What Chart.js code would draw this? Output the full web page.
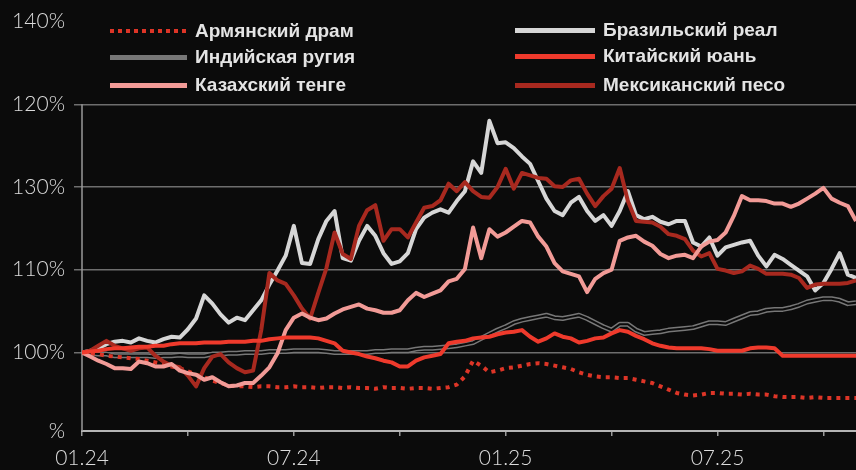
<!DOCTYPE html>
<html lang="ru">
<head>
<meta charset="utf-8">
<script src="https://cdn.jsdelivr.net/npm/chart.js@4.4.1/dist/chart.umd.min.js"></script>
<style>
  html, body { margin: 0; padding: 0; background: #0b0b0b; }
  #wrap { position: relative; width: 856px; height: 470px; overflow: hidden; background: #0b0b0b; }
  #chart { position: absolute; left: 0; top: 0; }
  .legend-item { position: absolute; display: flex; align-items: center; height: 24px;
    font: 600 19px "Liberation Sans", Arial, sans-serif; color: #e4e4e4; white-space: nowrap; }
  .swatch { margin-right: 8px; }
</style>
</head>
<body>
<div id="wrap">
  <canvas id="chart" width="856" height="470"></canvas>
  <div id="legend"></div>
</div>
<script>
// Оси: недели с 01.2024, подписи кварталов
const tickWeeks = [0, 13, 26, 39, 52, 65, 78, 91];
const xTickLabels = ['01.24', '', '07.24', '', '01.25', '', '07.25', ''];
const yTickValues = [90.5, 100, 110, 120, 130, 140];
const yTickLabels = ['%', '100%', '110%', '130%', '120%', '140%'];

// Ряды (индекс = номер недели), % к началу 2024
const amd = [
  100.0, 99.9, 99.8, 99.6, 99.5, 99.4, 99.3, 99.2,
  99.0, 98.8, 98.6, 98.3, 98.1, 97.7, 97.3, 97.0,
  96.6, 96.3, 96.0, 95.9, 95.9, 95.8, 95.9, 95.9,
  95.8, 95.8, 95.9, 95.8, 95.8, 95.7, 95.8, 95.8,
  95.7, 95.8, 95.7, 95.7, 95.6, 95.8, 95.7, 95.7,
  95.6, 95.7, 95.7, 95.6, 95.7, 95.8, 96.1, 97.1,
  99.0, 98.4, 97.6, 97.8, 98.1, 98.2, 98.4, 98.6,
  98.7, 98.6, 98.4, 98.2, 98.0, 97.6, 97.3, 97.1,
  97.0, 97.0, 96.9, 96.9, 96.7, 96.5, 96.3, 95.9,
  95.5, 95.1, 94.9, 94.8, 94.9, 95.1, 95.1, 95.0,
  95.0, 94.9, 95.0, 94.9, 94.9, 94.7, 94.6, 94.6,
  94.6, 94.5, 94.6, 94.5, 94.5, 94.5, 94.5, 94.5
];
const brl = [
  100.0, 100.2, 100.5, 101.0, 101.3, 101.4, 101.2, 101.7,
  101.4, 101.2, 101.6, 101.9, 101.8, 102.8, 104.1, 106.9,
  105.9, 104.6, 103.6, 104.2, 103.9, 105.1, 106.3, 108.2,
  109.9, 111.7, 115.3, 110.8, 110.7, 113.7, 115.9, 117.1,
  111.4, 111.1, 113.5, 115.3, 114.1, 112.0, 110.7, 111.0,
  112.0, 114.9, 116.3, 116.9, 117.3, 116.9, 118.3, 119.5,
  123.1, 121.7, 128.0, 125.3, 125.4, 124.7, 123.7, 122.8,
  120.7, 118.6, 117.1, 116.6, 118.1, 118.8, 117.1, 115.9,
  116.6, 115.3, 117.1, 119.5, 116.6, 116.1, 116.4, 115.8,
  115.5, 115.9, 115.9, 113.3, 112.8, 113.9, 111.7, 112.7,
  113.0, 113.3, 113.5, 111.7, 110.4, 111.8, 111.3, 110.6,
  109.9, 109.2, 107.5, 108.4, 110.1, 112.0, 109.4, 109.0
];
const inr = [
  100.0, 99.9, 99.8, 99.8, 99.6, 99.6, 99.6, 99.6,
  99.6, 99.5, 99.6, 99.6, 99.7, 99.6, 99.6, 99.6,
  99.8, 99.8, 99.9, 99.9, 100.0, 100.0, 100.0, 100.1,
  100.1, 100.1, 100.2, 100.2, 100.2, 100.2, 100.1, 100.0,
  100.0, 100.0, 100.0, 100.0, 100.1, 100.1, 100.2, 100.2,
  100.2, 100.4, 100.5, 100.5, 100.6, 100.7, 100.8, 101.0,
  101.2, 101.7, 102.2, 102.7, 103.1, 103.6, 103.9, 104.1,
  104.3, 104.5, 104.2, 104.1, 104.3, 104.5, 104.1, 103.6,
  103.1, 102.7, 103.4, 103.4, 102.7, 102.3, 102.4, 102.5,
  102.7, 102.8, 102.9, 103.0, 103.3, 103.6, 103.6, 103.5,
  103.9, 104.3, 104.7, 104.8, 105.1, 105.2, 105.2, 105.4,
  105.7, 106.1, 106.3, 106.5, 106.5, 106.3, 105.9, 106.0
];
const cny = [
  100.0, 100.1, 100.2, 100.4, 100.5, 100.5, 100.6, 100.7,
  100.7, 100.8, 100.8, 101.0, 101.1, 101.1, 101.1, 101.2,
  101.2, 101.2, 101.3, 101.3, 101.3, 101.4, 101.4, 101.6,
  101.7, 101.8, 101.8, 101.8, 101.8, 101.7, 101.4, 101.1,
  100.2, 100.0, 99.8, 99.5, 99.3, 99.0, 98.8, 98.3,
  98.3, 99.0, 99.4, 99.6, 99.8, 101.1, 101.3, 101.4,
  101.7, 101.8, 101.9, 102.2, 102.4, 102.5, 102.7, 101.9,
  101.3, 101.7, 102.3, 101.9, 101.7, 101.2, 101.4, 101.7,
  101.8, 102.3, 102.7, 102.5, 102.0, 101.6, 101.1, 100.8,
  100.6, 100.5, 100.5, 100.5, 100.5, 100.4, 100.2, 100.2,
  100.2, 100.2, 100.5, 100.6, 100.6, 100.5, 99.6, 99.6,
  99.6, 99.6, 99.6, 99.6, 99.6, 99.6, 99.6, 99.6
];
const kzt = [
  100.0, 99.5, 99.0, 98.6, 98.1, 98.1, 98.0, 98.9,
  98.7, 98.3, 98.3, 98.6, 97.8, 97.5, 97.3, 96.7,
  97.0, 96.4, 95.9, 96.0, 96.3, 96.3, 97.2, 98.2,
  99.9, 102.7, 104.2, 104.7, 104.2, 103.9, 104.1, 104.7,
  105.2, 105.5, 105.8, 105.3, 105.1, 104.8, 104.8, 105.1,
  106.3, 107.2, 106.7, 107.1, 107.5, 108.6, 108.9, 110.1,
  115.1, 111.4, 114.9, 114.0, 114.5, 115.2, 115.9, 115.7,
  114.0, 112.8, 110.8, 109.8, 109.5, 109.2, 107.3, 108.9,
  109.6, 110.0, 113.5, 113.9, 114.1, 113.4, 112.9, 111.9,
  111.4, 111.7, 111.8, 111.4, 112.8, 113.4, 113.6, 114.5,
  116.5, 118.9, 118.4, 118.4, 118.3, 118.0, 118.0, 117.6,
  118.0, 118.6, 119.2, 119.9, 118.6, 118.1, 117.7, 115.9
];
const mxn = [
  100.0, 100.2, 100.8, 101.4, 100.8, 100.5, 100.2, 100.5,
  100.6, 99.6, 98.9, 98.4, 98.2, 97.2, 95.9, 98.1,
  99.5, 99.8, 98.8, 98.1, 97.6, 97.8, 102.7, 109.6,
  108.7, 108.3, 106.9, 105.3, 104.1, 107.2, 110.2, 114.5,
  111.9, 111.3, 115.3, 117.2, 117.8, 113.5, 114.9, 114.9,
  113.9, 115.7, 117.5, 117.7, 118.4, 120.4, 119.5, 120.6,
  119.5, 118.8, 118.7, 120.0, 122.2, 119.8, 121.7, 121.4,
  121.1, 121.0, 120.1, 120.0, 120.8, 121.0, 119.2, 117.7,
  118.9, 119.8, 122.3, 118.3, 115.9, 115.8, 115.7, 115.2,
  114.3, 114.1, 113.7, 112.3, 111.6, 112.0, 110.1, 109.9,
  109.6, 109.8, 110.5, 110.1, 109.5, 109.5, 109.5, 109.4,
  109.0, 107.8, 108.2, 108.3, 108.3, 108.3, 108.4, 108.7
];

const colors = {
  amd: '#dd3527', brl: '#d6d6d6', inr: '#777777',
  cny: '#ef3a2c', kzt: '#f29b97', mxn: '#a8291f'
};

// Легенда (две колонки)
const legendItems = [
  { name: 'Армянский драм', color: colors.amd, dotted: true, left: 110, top: 31, w: 77 },
  { name: 'Индийская ругия', color: colors.inr, left: 110, top: 57, w: 77 },
  { name: 'Казахский тенге', color: colors.kzt, left: 110, top: 85, w: 77 },
  { name: 'Бразильский реал', color: colors.brl, left: 515, top: 30, w: 80 },
  { name: 'Китайский юань', color: colors.cny, left: 515, top: 56, w: 80 },
  { name: 'Мексиканский песо', color: colors.mxn, left: 515, top: 85, w: 80 }
];
const legend = document.getElementById('legend');
legendItems.forEach(it => {
  const el = document.createElement('div');
  el.className = 'legend-item';
  el.style.left = it.left + 'px';
  el.style.top = (it.top - 12) + 'px';
  const sw = document.createElement('span');
  sw.className = 'swatch';
  sw.style.width = it.w + 'px';
  if (it.dotted) {
    sw.style.height = '4px';
    sw.style.background = `repeating-linear-gradient(90deg, ${it.color} 0 4px, transparent 4px 8px)`;
  } else {
    sw.style.height = '5px';
    sw.style.background = it.color;
  }
  el.appendChild(sw);
  const tx = document.createElement('span');
  tx.textContent = it.name;
  el.appendChild(tx);
  legend.appendChild(el);
});

const toPoints = arr => arr.map((v, i) => ({ x: i, y: v }));

// Левая ось только от 130 вниз
const yAxisLine = {
  id: 'yAxisLine',
  beforeDatasetsDraw(chart) {
    const { ctx, scales: { x, y } } = chart;
    ctx.save();
    ctx.strokeStyle = '#9a9a9a';
    ctx.lineWidth = 1.5;
    ctx.beginPath();
    ctx.moveTo(x.left, y.getPixelForValue(130));
    ctx.lineTo(x.left, y.bottom);
    ctx.stroke();
    ctx.restore();
  }
};

const line = (data, color, width, extra) => Object.assign({
  data: toPoints(data),
  borderColor: color,
  borderWidth: width,
  pointRadius: 0,
  fill: false,
  tension: 0,
  borderJoinStyle: 'round'
}, extra || {});

const tickFont = { family: 'Lato, "Open Sans", sans-serif', size: 21, weight: 300 };
const gridCol = c => (c.index > 0 && c.index < yTickValues.length - 1) ? '#6e6e6e' : 'rgba(0,0,0,0)';

const chart = new Chart(document.getElementById('chart').getContext('2d'), {
  type: 'line',
  data: {
    datasets: [
      line(cny, colors.cny, 4),
      line(kzt, colors.kzt, 4),
      line(mxn, colors.mxn, 4),
      line(brl, colors.brl, 4),
      line(amd, colors.amd, 4, { borderDash: [4, 5], borderCapStyle: 'butt' }),
      line(inr, '#0b0b0b', 2),
      line(inr, colors.inr, 5)
    ]
  },
  options: {
    responsive: false,
    animation: false,
    layout: { padding: { top: 20, left: 0, right: 0, bottom: 0 } },
    plugins: { legend: { display: false }, tooltip: { enabled: false } },
    scales: {
      x: {
        type: 'linear',
        min: 0,
        max: 95,
        afterBuildTicks: s => { s.ticks = tickWeeks.map(v => ({ value: v })); },
        afterFit: s => { s.height = 39; },
        ticks: {
          callback: (v, i) => xTickLabels[i],
          color: '#dcdcdc',
          font: tickFont,
          padding: 10,
          maxRotation: 0,
          autoSkip: false
        },
        grid: { drawOnChartArea: false, tickLength: 5, tickColor: '#9a9a9a', lineWidth: 1.5 },
        border: { display: true, color: '#b5b5b5', width: 2 }
      },
      y: {
        type: 'linear',
        min: 90.5,
        max: 140,
        afterBuildTicks: s => { s.ticks = yTickValues.map(v => ({ value: v })); },
        afterFit: s => { s.width = 82; },
        ticks: {
          callback: (v, i) => yTickLabels[i],
          color: '#dcdcdc',
          font: tickFont,
          padding: 9,
          autoSkip: false
        },
        grid: { color: gridCol, tickColor: gridCol, lineWidth: 1.5, tickLength: 8 },
        border: { display: false }
      }
    }
  },
  plugins: [yAxisLine]
});
</script>
</body>
</html>
